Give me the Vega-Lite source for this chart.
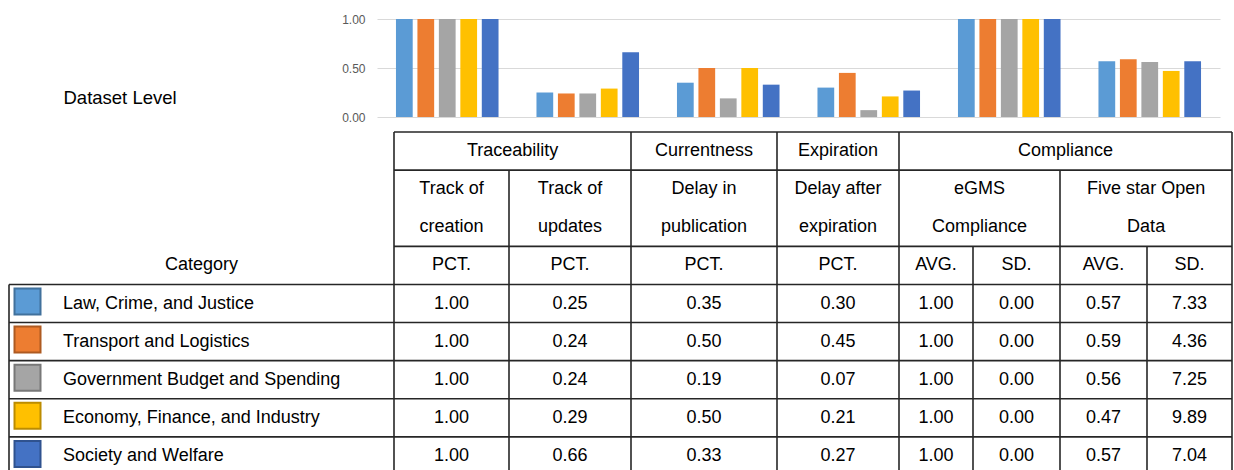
{
  "$schema": "https://vega.github.io/schema/vega-lite/v6.json",
  "width": 1234,
  "height": 470,
  "padding": 0,
  "autosize": {"type": "none"},
  "config": {"view": {"stroke": null}, "font": "Liberation Sans"},
  "datasets": {
    "scores": [
      {"category": "Law, Crime, and Justice", "column": "Track of creation", "value": 1.00},
      {"category": "Transport and Logistics", "column": "Track of creation", "value": 1.00},
      {"category": "Government Budget and Spending", "column": "Track of creation", "value": 1.00},
      {"category": "Economy, Finance, and Industry", "column": "Track of creation", "value": 1.00},
      {"category": "Society and Welfare", "column": "Track of creation", "value": 1.00},
      {"category": "Law, Crime, and Justice", "column": "Track of updates", "value": 0.25},
      {"category": "Transport and Logistics", "column": "Track of updates", "value": 0.24},
      {"category": "Government Budget and Spending", "column": "Track of updates", "value": 0.24},
      {"category": "Economy, Finance, and Industry", "column": "Track of updates", "value": 0.29},
      {"category": "Society and Welfare", "column": "Track of updates", "value": 0.66},
      {"category": "Law, Crime, and Justice", "column": "Delay in publication", "value": 0.35},
      {"category": "Transport and Logistics", "column": "Delay in publication", "value": 0.50},
      {"category": "Government Budget and Spending", "column": "Delay in publication", "value": 0.19},
      {"category": "Economy, Finance, and Industry", "column": "Delay in publication", "value": 0.50},
      {"category": "Society and Welfare", "column": "Delay in publication", "value": 0.33},
      {"category": "Law, Crime, and Justice", "column": "Delay after expiration", "value": 0.30},
      {"category": "Transport and Logistics", "column": "Delay after expiration", "value": 0.45},
      {"category": "Government Budget and Spending", "column": "Delay after expiration", "value": 0.07},
      {"category": "Economy, Finance, and Industry", "column": "Delay after expiration", "value": 0.21},
      {"category": "Society and Welfare", "column": "Delay after expiration", "value": 0.27},
      {"category": "Law, Crime, and Justice", "column": "eGMS Compliance AVG", "value": 1.00},
      {"category": "Transport and Logistics", "column": "eGMS Compliance AVG", "value": 1.00},
      {"category": "Government Budget and Spending", "column": "eGMS Compliance AVG", "value": 1.00},
      {"category": "Economy, Finance, and Industry", "column": "eGMS Compliance AVG", "value": 1.00},
      {"category": "Society and Welfare", "column": "eGMS Compliance AVG", "value": 1.00},
      {"category": "Law, Crime, and Justice", "column": "eGMS Compliance SD", "value": 0.00},
      {"category": "Transport and Logistics", "column": "eGMS Compliance SD", "value": 0.00},
      {"category": "Government Budget and Spending", "column": "eGMS Compliance SD", "value": 0.00},
      {"category": "Economy, Finance, and Industry", "column": "eGMS Compliance SD", "value": 0.00},
      {"category": "Society and Welfare", "column": "eGMS Compliance SD", "value": 0.00},
      {"category": "Law, Crime, and Justice", "column": "Five star Open Data AVG", "value": 0.57},
      {"category": "Transport and Logistics", "column": "Five star Open Data AVG", "value": 0.59},
      {"category": "Government Budget and Spending", "column": "Five star Open Data AVG", "value": 0.56},
      {"category": "Economy, Finance, and Industry", "column": "Five star Open Data AVG", "value": 0.47},
      {"category": "Society and Welfare", "column": "Five star Open Data AVG", "value": 0.57},
      {"category": "Law, Crime, and Justice", "column": "Five star Open Data SD", "value": 7.33},
      {"category": "Transport and Logistics", "column": "Five star Open Data SD", "value": 4.36},
      {"category": "Government Budget and Spending", "column": "Five star Open Data SD", "value": 7.25},
      {"category": "Economy, Finance, and Industry", "column": "Five star Open Data SD", "value": 9.89},
      {"category": "Society and Welfare", "column": "Five star Open Data SD", "value": 7.04}
    ],
    "columns": [
      {"column": "Track of creation", "col": 1},
      {"column": "Track of updates", "col": 2},
      {"column": "Delay in publication", "col": 3},
      {"column": "Delay after expiration", "col": 4},
      {"column": "eGMS Compliance AVG", "col": 5},
      {"column": "eGMS Compliance SD", "col": 6},
      {"column": "Five star Open Data AVG", "col": 7},
      {"column": "Five star Open Data SD", "col": 8}
    ],
    "categories": [
      {"category": "Law, Crime, and Justice", "col": 0, "row": 4},
      {"category": "Transport and Logistics", "col": 0, "row": 5},
      {"category": "Government Budget and Spending", "col": 0, "row": 6},
      {"category": "Economy, Finance, and Industry", "col": 0, "row": 7},
      {"category": "Society and Welfare", "col": 0, "row": 8}
    ],
    "headers": [
      {"text": "Traceability", "col": 1.53, "row": 0},
      {"text": "Currentness", "col": 3, "row": 0},
      {"text": "Expiration", "col": 4, "row": 0},
      {"text": "Compliance", "col": 6.563, "row": 0},
      {"text": "Track of", "col": 1, "row": 1},
      {"text": "Track of", "col": 2, "row": 1},
      {"text": "Delay in", "col": 3, "row": 1},
      {"text": "Delay after", "col": 4, "row": 1},
      {"text": "eGMS", "col": 5.575, "row": 1},
      {"text": "Five star Open", "col": 7.49, "row": 1},
      {"text": "creation", "col": 1, "row": 2},
      {"text": "updates", "col": 2, "row": 2},
      {"text": "publication", "col": 3, "row": 2},
      {"text": "expiration", "col": 4, "row": 2},
      {"text": "Compliance", "col": 5.575, "row": 2},
      {"text": "Data", "col": 7.49, "row": 2},
      {"text": "Category", "col": 0, "row": 3},
      {"text": "PCT.", "col": 1, "row": 3},
      {"text": "PCT.", "col": 2, "row": 3},
      {"text": "PCT.", "col": 3, "row": 3},
      {"text": "PCT.", "col": 4, "row": 3},
      {"text": "AVG.", "col": 5, "row": 3},
      {"text": "SD.", "col": 6, "row": 3},
      {"text": "AVG.", "col": 7, "row": 3},
      {"text": "SD.", "col": 8, "row": 3}
    ],
    "borders": [
      {"col": -0.5, "col2": -0.5, "row": 3.5, "row2": 8.5},
      {"col": 0.5, "col2": 0.5, "row": -0.5, "row2": 8.5},
      {"col": 1.5, "col2": 1.5, "row": 0.5, "row2": 8.5},
      {"col": 2.5, "col2": 2.5, "row": -0.5, "row2": 8.5},
      {"col": 3.5, "col2": 3.5, "row": -0.5, "row2": 8.5},
      {"col": 4.5, "col2": 4.5, "row": -0.5, "row2": 8.5},
      {"col": 5.5, "col2": 5.5, "row": 2.5, "row2": 8.5},
      {"col": 6.5, "col2": 6.5, "row": 0.5, "row2": 8.5},
      {"col": 7.5, "col2": 7.5, "row": 2.5, "row2": 8.5},
      {"col": 8.5, "col2": 8.5, "row": -0.5, "row2": 8.5},
      {"col": 0.5, "col2": 8.5, "row": -0.5, "row2": -0.5},
      {"col": 0.5, "col2": 8.5, "row": 0.5, "row2": 0.5},
      {"col": 0.5, "col2": 8.5, "row": 2.5, "row2": 2.5},
      {"col": -0.5, "col2": 8.5, "row": 3.5, "row2": 3.5},
      {"col": -0.5, "col2": 8.5, "row": 4.5, "row2": 4.5},
      {"col": -0.5, "col2": 8.5, "row": 5.5, "row2": 5.5},
      {"col": -0.5, "col2": 8.5, "row": 6.5, "row2": 6.5},
      {"col": -0.5, "col2": 8.5, "row": 7.5, "row2": 7.5},
      {"col": -0.5, "col2": 8.5, "row": 8.5, "row2": 8.5}
    ]
  },
  "layer": [
    {
      "data": {"name": "scores"},
      "transform": [
        {"filter": {"field": "column", "oneOf": ["Track of creation", "Track of updates", "Delay in publication", "Delay after expiration", "eGMS Compliance AVG", "Five star Open Data AVG"]}}
      ],
      "mark": {"type": "bar"},
      "encoding": {
        "x": {
          "field": "column", "type": "nominal",
          "scale": {"domain": ["Track of creation", "Track of updates", "Delay in publication", "Delay after expiration", "eGMS Compliance AVG", "Five star Open Data AVG"], "range": [377, 1220], "paddingInner": 0.27, "paddingOuter": 0.135},
          "axis": null
        },
        "xOffset": {
          "field": "category", "type": "nominal",
          "scale": {"domain": ["Law, Crime, and Justice", "Transport and Logistics", "Government Budget and Spending", "Economy, Finance, and Industry", "Society and Welfare"], "paddingInner": 0.22, "paddingOuter": 0}
        },
        "y": {
          "field": "value", "type": "quantitative",
          "scale": {"domain": [0, 1], "range": [117, 19], "nice": false},
          "axis": {
            "values": [0, 0.5, 1], "format": ".2f", "offset": -377,
            "grid": true, "gridColor": "#d9d9d9", "gridWidth": 1,
            "domain": false, "ticks": false, "labelPadding": 12,
            "labelColor": "#595959", "labelFontSize": 12, "labelFont": "Liberation Sans",
            "title": "Dataset Level", "titleAngle": 0, "titleAlign": "left", "titleBaseline": "middle",
            "titleX": -314, "titleY": 97, "titleFontSize": 18.5, "titleFontWeight": "normal",
            "titleColor": "#000000", "titleFont": "Liberation Sans"
          }
        },
        "color": {
          "field": "category", "type": "nominal",
          "scale": {"domain": ["Law, Crime, and Justice", "Transport and Logistics", "Government Budget and Spending", "Economy, Finance, and Industry", "Society and Welfare"], "range": ["#5B9BD5", "#ED7D31", "#A5A5A5", "#FFC000", "#4472C4"]},
          "legend": null
        }
      }
    },
    {
      "encoding": {
        "x": {
          "field": "col", "type": "quantitative",
          "scale": {"domain": [-0.5, 0.5, 1.5, 2.5, 3.5, 4.5, 5.5, 6.5, 7.5, 8.5], "range": [9, 394, 509, 631, 777, 899, 973, 1060, 1147, 1232], "nice": false, "zero": false},
          "axis": null
        },
        "y": {
          "field": "row", "type": "quantitative",
          "scale": {"domain": [-0.5, 8.5], "range": [132, 475], "nice": false, "zero": false},
          "axis": null
        }
      },
      "layer": [
        {
          "data": {"name": "borders"},
          "mark": {"type": "rule", "color": "#262626", "strokeWidth": 1.6},
          "encoding": {
            "x2": {"field": "col2"},
            "y2": {"field": "row2"}
          }
        },
        {
          "data": {"name": "headers"},
          "mark": {"type": "text", "fontSize": 18, "font": "Liberation Sans", "color": "#000000", "align": "center", "baseline": "middle"},
          "encoding": {
            "text": {"field": "text", "type": "nominal"}
          }
        },
        {
          "data": {"name": "categories"},
          "mark": {"type": "square", "filled": true, "size": 676, "strokeWidth": 2, "opacity": 1, "xOffset": -174, "yOffset": -2},
          "encoding": {
            "color": {
              "field": "category", "type": "nominal",
              "scale": {"domain": ["Law, Crime, and Justice", "Transport and Logistics", "Government Budget and Spending", "Economy, Finance, and Industry", "Society and Welfare"], "range": ["#5B9BD5", "#ED7D31", "#A5A5A5", "#FFC000", "#4472C4"]},
              "legend": null
            },
            "stroke": {
              "field": "category", "type": "nominal",
              "scale": {"domain": ["Law, Crime, and Justice", "Transport and Logistics", "Government Budget and Spending", "Economy, Finance, and Industry", "Society and Welfare"], "range": ["#41719C", "#AE5A21", "#787878", "#BC8C00", "#2F528F"]},
              "legend": null
            }
          }
        },
        {
          "data": {"name": "categories"},
          "mark": {"type": "text", "fontSize": 18, "font": "Liberation Sans", "color": "#000000", "align": "left", "baseline": "middle", "dx": -138.5},
          "encoding": {
            "text": {"field": "category", "type": "nominal"}
          }
        },
        {
          "data": {"name": "scores"},
          "transform": [
            {"lookup": "column", "from": {"data": {"name": "columns"}, "key": "column", "fields": ["col"]}},
            {"lookup": "category", "from": {"data": {"name": "categories"}, "key": "category", "fields": ["row"]}}
          ],
          "mark": {"type": "text", "fontSize": 18, "font": "Liberation Sans", "color": "#000000", "align": "center", "baseline": "middle"},
          "encoding": {
            "text": {"field": "value", "type": "quantitative", "format": ".2f"}
          }
        }
      ]
    }
  ],
  "resolve": {"scale": {"x": "independent", "y": "independent", "color": "independent"}}
}
